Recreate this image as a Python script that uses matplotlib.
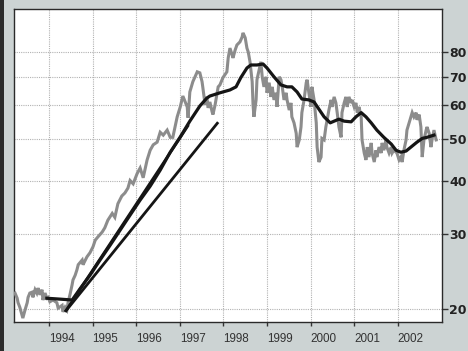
import matplotlib
matplotlib.use("Agg")
import matplotlib.pyplot as plt
from matplotlib.patches import Rectangle
from matplotlib.ticker import FixedLocator, NullLocator

# ---- data (decimal year, price) ----
price_years = [1993.22, 1993.27, 1993.29, 1993.33, 1993.38, 1993.40, 1993.45, 1993.50, 1993.52, 1993.56,
               1993.61, 1993.63, 1993.68, 1993.72, 1993.75, 1993.79, 1993.84, 1993.86, 1993.91, 1993.95,
               1993.98, 1994.02, 1994.09, 1994.18, 1994.21, 1994.30, 1994.32, 1994.37, 1994.41, 1994.44,
               1994.48, 1994.53, 1994.55, 1994.60, 1994.64, 1994.67, 1994.76, 1994.78, 1994.87, 1994.94,
               1995.01, 1995.06, 1995.12, 1995.22, 1995.28, 1995.35, 1995.45, 1995.51, 1995.58, 1995.67,
               1995.74, 1995.81, 1995.86, 1995.93, 1996.02, 1996.09, 1996.16, 1996.25, 1996.32, 1996.39,
               1996.48, 1996.55, 1996.62, 1996.71, 1996.78, 1996.84, 1996.94, 1997.01, 1997.05, 1997.07,
               1997.17, 1997.19, 1997.23, 1997.30, 1997.40, 1997.46, 1997.51, 1997.53, 1997.58, 1997.62,
               1997.65, 1997.69, 1997.74, 1997.76, 1997.81, 1997.85, 1997.88, 1997.92, 1997.99, 1998.08,
               1998.11, 1998.15, 1998.20, 1998.22, 1998.27, 1998.31, 1998.38, 1998.43, 1998.45, 1998.50,
               1998.54, 1998.57, 1998.61, 1998.66, 1998.68, 1998.70, 1998.75, 1998.77, 1998.82, 1998.86,
               1998.89, 1998.93, 1998.98, 1999.00, 1999.05, 1999.09, 1999.12, 1999.16, 1999.21, 1999.23,
               1999.28, 1999.32, 1999.35, 1999.39, 1999.44, 1999.46, 1999.51, 1999.55, 1999.57, 1999.62,
               1999.67, 1999.69, 1999.74, 1999.78, 1999.80, 1999.85, 1999.90, 1999.92, 1999.96, 2000.01,
               2000.03, 2000.08, 2000.13, 2000.15, 2000.19, 2000.24, 2000.26, 2000.31, 2000.35, 2000.38,
               2000.42, 2000.47, 2000.49, 2000.54, 2000.58, 2000.61, 2000.65, 2000.70, 2000.72, 2000.77,
               2000.81, 2000.84, 2000.88, 2000.93, 2000.95, 2001.00, 2001.04, 2001.07, 2001.11, 2001.16,
               2001.18, 2001.23, 2001.27, 2001.30, 2001.34, 2001.39, 2001.41, 2001.46, 2001.50, 2001.52,
               2001.57, 2001.62, 2001.64, 2001.68, 2001.73, 2001.75, 2001.80, 2001.85, 2001.87, 2001.91,
               2001.98, 2002.03, 2002.07, 2002.10, 2002.14, 2002.19, 2002.21, 2002.26, 2002.30, 2002.33,
               2002.37, 2002.42, 2002.44, 2002.49, 2002.53, 2002.56, 2002.60, 2002.65, 2002.67, 2002.72,
               2002.76, 2002.79, 2002.83, 2002.88]
price_values = [21.8, 21.2, 20.7, 20.2, 19.4, 19.05, 19.9, 20.7, 21.3, 21.8,
                21.9, 21.3, 22.2, 21.8, 22.4, 21.6, 22.2, 21.0, 21.8, 21.2,
                21.3, 20.8, 21.0, 20.7, 20.1, 20.4, 19.7, 20.2, 19.9, 20.8,
                21.6, 22.8, 23.4, 24.0, 24.7, 25.4, 26.05, 25.4, 26.5, 27.1,
                28.0, 29.0, 29.5, 30.3, 31.0, 32.3, 33.5, 32.8, 35.3, 36.8,
                37.4, 38.4, 40.0, 39.3, 41.5, 42.8, 40.6, 44.7, 47.1, 48.5,
                49.2, 51.9, 51.1, 52.5, 50.5, 50.5, 56.4, 59.5, 61.8, 63.1,
                59.5, 56.1, 64.5, 68.2, 71.9, 71.5, 68.2, 65.9, 60.2, 62.8,
                59.2, 61.1, 58.0, 57.1, 60.2, 63.5, 66.3, 67.0, 69.7, 71.9,
                77.5, 81.7, 78.8, 77.5, 80.9, 83.1, 84.5, 86.8, 88.7, 86.4,
                81.7, 80.0, 75.9, 68.2, 60.2, 56.4, 61.8, 68.9, 72.7, 75.9,
                70.0, 66.3, 70.0, 64.2, 67.8, 62.8, 66.3, 61.8, 64.2, 59.5,
                70.0, 68.9, 66.3, 61.8, 64.2, 61.8, 58.5, 60.8, 56.4, 54.6,
                51.6, 47.9, 49.8, 53.4, 57.7, 61.8, 67.8, 68.9, 64.2, 59.5,
                66.3, 61.8, 54.6, 47.9, 44.2, 45.4, 50.2, 49.8, 53.4, 55.5,
                58.5, 61.8, 59.5, 62.8, 60.8, 57.7, 53.4, 50.5, 57.7, 60.8,
                62.8, 59.5, 62.8, 60.8, 61.8, 59.5, 60.8, 57.7, 59.5, 56.4,
                49.8, 46.4, 44.7, 47.9, 45.4, 49.0, 46.4, 44.2, 47.1, 45.4,
                47.9, 46.4, 49.0, 47.1, 49.8, 47.9, 46.4, 47.9, 46.4, 47.1,
                46.4, 44.7, 45.4, 44.2, 47.1, 49.8, 52.5, 54.6, 56.4, 57.7,
                56.4, 57.7, 55.5, 57.1, 53.4, 45.4, 49.8, 52.5, 53.4, 51.6,
                47.9, 50.2, 52.5, 49.8]

ma_years = [1993.95, 1994.25, 1994.53, 1994.71, 1994.94, 1995.17, 1995.40, 1995.63, 1995.86, 1996.09,
            1996.32, 1996.55, 1996.78, 1997.01, 1997.23, 1997.46, 1997.62, 1997.69, 1997.92, 1998.15,
            1998.29, 1998.40, 1998.54, 1998.63, 1998.77, 1998.91, 1999.00, 1999.16, 1999.32, 1999.46,
            1999.57, 1999.69, 1999.80, 1999.96, 2000.08, 2000.19, 2000.31, 2000.45, 2000.54, 2000.65,
            2000.77, 2000.93, 2001.04, 2001.16, 2001.27, 2001.39, 2001.52, 2001.68, 2001.85, 2001.96,
            2002.07, 2002.19, 2002.30, 2002.44, 2002.56, 2002.67, 2002.83]
ma_values = [21.2, 21.1, 21.0, 22.3, 24.0, 26.05, 28.2, 30.6, 33.2, 36.0,
             38.8, 42.3, 46.6, 50.6, 55.1, 59.8, 62.4, 63.1, 64.2, 65.2,
             66.3, 69.7, 73.4, 74.6, 74.6, 75.0, 73.4, 70.0, 67.0, 66.3,
             66.3, 64.5, 62.1, 61.8, 61.1, 58.8, 56.4, 54.6, 55.1, 55.7,
             55.1, 54.9, 56.4, 57.7, 56.4, 54.6, 52.5, 50.5, 48.7, 47.1,
             46.6, 46.9, 47.9, 49.2, 50.2, 50.5, 51.1]

trend_steep_years = [1994.37, 1997.20]
trend_steep_values = [19.7, 54.0]
trend_low_years = [1994.37, 1997.88]
trend_low_values = [19.7, 54.8]

year_ticks = [1994, 1995, 1996, 1997, 1998, 1999, 2000, 2001, 2002]
price_ticks = [20, 30, 40, 50, 60, 70, 80]

# ---- figure ----
fig = plt.figure(figsize=(4.68, 3.51), dpi=100)
fig.patch.set_facecolor('#ccd3d3')
fig.patches.append(Rectangle((0, 0), 4 / 468, 1, transform=fig.transFigure,
                             facecolor='#2b2b2b', edgecolor='none', zorder=0))

ax = fig.add_axes([14 / 468, 1 - 322 / 351, 428 / 468, 313 / 351])
ax.set_facecolor('white')
ax.set_yscale('log')
ax.set_xlim(1993.197, 2003.014)
ax.set_ylim(18.65, 100.9)

ax.plot(price_years, price_values, color='#8c8c8c', lw=2.2, zorder=3, solid_joinstyle='miter')
ax.plot(trend_low_years, trend_low_values, color='#151515', lw=2.0, zorder=4, solid_capstyle='butt')
ax.plot(trend_steep_years, trend_steep_values, color='#151515', lw=2.0, zorder=4, solid_capstyle='butt')
ax.plot(ma_years, ma_values, color='#151515', lw=2.3, zorder=5, solid_joinstyle='round')

ax.xaxis.set_major_locator(FixedLocator(year_ticks))
ax.xaxis.set_minor_locator(NullLocator())
ax.set_xticklabels([str(y) for y in year_ticks])
ax.yaxis.set_major_locator(FixedLocator(price_ticks))
ax.yaxis.set_minor_locator(NullLocator())
ax.set_yticklabels([str(v) for v in price_ticks])

ax.yaxis.tick_right()
ax.tick_params(axis='y', which='major', direction='out', length=4, width=1, color='#333333',
               pad=1, labelsize=9, labelcolor='#222222')
ax.tick_params(axis='x', which='major', direction='out', length=3, width=1, color='#333333',
               pad=5, labelsize=8.4, labelcolor='#333333')
for lab in ax.get_yticklabels():
    lab.set_fontweight('bold')
    lab.set_family('DejaVu Sans')
for lab in ax.get_xticklabels():
    lab.set_horizontalalignment('left')
    lab.set_family('Liberation Sans')

ax.grid(True, which='major', color='#b2b2b2', lw=0.8, linestyle=(0, (1, 1)), zorder=1)
ax.set_axisbelow(True)
for s in ax.spines.values():
    s.set_color('#2a2a2a')
    s.set_linewidth(1.0)

fig.savefig('out.png', dpi=100, facecolor=fig.get_facecolor())
